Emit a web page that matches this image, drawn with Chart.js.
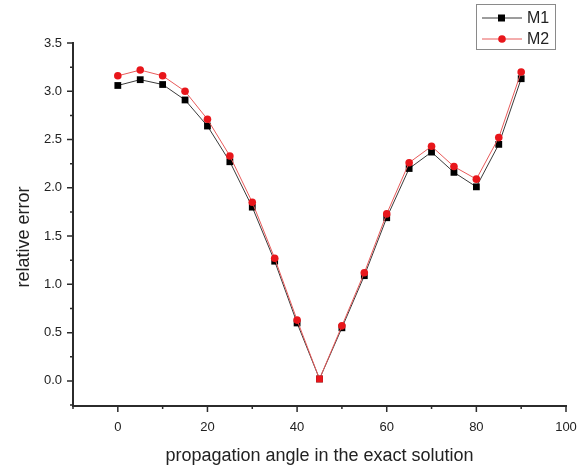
<!DOCTYPE html>
<html>
<head>
<meta charset="utf-8">
<script src="https://cdn.jsdelivr.net/npm/chart.js@4/dist/chart.umd.min.js"></script>
<style>
  html, body { margin: 0; padding: 0; background: #fff; }
  #wrap { width: 585px; height: 465px; }
</style>
</head>
<body>
<div id="wrap"><canvas id="c" width="585" height="465"></canvas></div>
<script>
// Propagation angles (degrees) and relative error of both methods
const angles = [0, 5, 10, 15, 20, 25, 30, 35, 40, 45, 50, 55, 60, 65, 70, 75, 80, 85, 90];
const m1Values = [3.06, 3.12, 3.07, 2.91, 2.64, 2.27, 1.80, 1.24, 0.60, 0.02, 0.55, 1.09, 1.69, 2.20, 2.37, 2.16, 2.01, 2.45, 3.13];
const m2Values = [3.16, 3.22, 3.16, 3.00, 2.71, 2.33, 1.85, 1.27, 0.63, 0.02, 0.57, 1.12, 1.73, 2.26, 2.43, 2.22, 2.09, 2.52, 3.20];
const xTickLabels = [0, 20, 40, 60, 80, 100];
const yTickLabels = ['0.0', '0.5', '1.0', '1.5', '2.0', '2.5', '3.0', '3.5'];
const seriesNames = ['M1', 'M2'];
const xTitle = 'propagation angle in the exact solution';
const yTitle = 'relative error';

const AXIS_COLOR = '#2b2b2b';
const TEXT_COLOR = '#222222';
const FONT = '"Liberation Sans", Arial, sans-serif';

// Outward major/minor ticks, drawn along each axis
const axisTicks = {
  id: 'axisTicks',
  afterDraw(chart) {
    const ctx = chart.ctx;
    const x = chart.scales.x, y = chart.scales.y;
    const area = chart.chartArea;
    ctx.save();
    ctx.strokeStyle = AXIS_COLOR;
    ctx.lineWidth = 1.5;
    ctx.beginPath();
    for (let v = -10; v <= 100; v += 10) {
      const px = x.getPixelForValue(v);
      const len = (v % 20 === 0) ? 6 : 3;
      ctx.moveTo(px, area.bottom);
      ctx.lineTo(px, area.bottom + len);
    }
    for (let k = -1; k <= 14; k++) {
      const v = k * 0.25;
      const py = y.getPixelForValue(v);
      if (py > area.bottom + 0.5) continue;
      const len = (k % 2 === 0) ? 6 : 3;
      ctx.moveTo(area.left, py);
      ctx.lineTo(area.left - len, py);
    }
    ctx.stroke();
    ctx.restore();
  }
};

// Axis titles
const axisTitles = {
  id: 'axisTitles',
  afterDraw(chart) {
    const ctx = chart.ctx;
    const area = chart.chartArea;
    ctx.save();
    ctx.fillStyle = TEXT_COLOR;
    ctx.font = '18px ' + FONT;
    ctx.textAlign = 'center';
    ctx.textBaseline = 'alphabetic';
    ctx.fillText(xTitle, (area.left + area.right) / 2, 461);
    ctx.translate(29, 237);
    ctx.rotate(-Math.PI / 2);
    ctx.fillText(yTitle, 0, 0);
    ctx.restore();
  }
};

// Boxed legend in the upper right corner
const boxLegend = {
  id: 'boxLegend',
  afterDraw(chart) {
    const ctx = chart.ctx;
    const bx = 476.5, by = 4.5, bw = 79, bh = 45;
    ctx.save();
    ctx.fillStyle = '#fff';
    ctx.fillRect(bx, by, bw, bh);
    ctx.strokeStyle = '#8a8a8a';
    ctx.lineWidth = 1;
    ctx.strokeRect(bx, by, bw, bh);
    const rows = [18, 39];
    chart.data.datasets.forEach((ds, i) => {
      const ry = rows[i];
      ctx.strokeStyle = ds.borderColor;
      ctx.lineWidth = 1;
      ctx.beginPath();
      ctx.moveTo(482, ry);
      ctx.lineTo(522, ry);
      ctx.stroke();
      ctx.fillStyle = ds.backgroundColor;
      ctx.beginPath();
      if (i === 0) {
        ctx.rect(498, ry - 3.5, 7, 7);
      } else {
        ctx.arc(502, ry, 3.8, 0, Math.PI * 2);
      }
      ctx.fill();
      ctx.fillStyle = TEXT_COLOR;
      ctx.font = '16px ' + FONT;
      ctx.textAlign = 'left';
      ctx.textBaseline = 'middle';
      ctx.fillText(ds.label, 527, ry + 1);
    });
    ctx.restore();
  }
};

const ctx = document.getElementById('c').getContext('2d');
new Chart(ctx, {
  type: 'line',
  data: {
    datasets: [
      {
        label: seriesNames[0],
        data: angles.map((a, i) => ({ x: a, y: m1Values[i] })),
        borderColor: '#3a3a3a',
        backgroundColor: '#000000',
        borderWidth: 1,
        pointStyle: 'rect',
        pointRadius: 4.8,
        pointBorderWidth: 0,
        order: 1
      },
      {
        label: seriesNames[1],
        data: angles.map((a, i) => ({ x: a, y: m2Values[i] })),
        borderColor: '#e85a5a',
        backgroundColor: '#e8161b',
        borderWidth: 1,
        pointStyle: (c) => (c.dataIndex === 9 ? 'rect' : 'circle'),
        pointRadius: (c) => (c.dataIndex === 9 ? 4.8 : 3.8),
        pointBorderWidth: 0,
        order: 0
      }
    ]
  },
  options: {
    responsive: false,
    animation: false,
    layout: { padding: { top: 43, right: 19, left: 0, bottom: 0 } },
    plugins: {
      legend: { display: false },
      tooltip: { enabled: false }
    },
    scales: {
      x: {
        type: 'linear',
        min: -10,
        max: 100,
        afterBuildTicks: (s) => { s.ticks = xTickLabels.map(v => ({ value: v })); },
        afterFit: (s) => { s.height = 59; s.paddingLeft = 0; s.paddingRight = 0; },
        grid: { display: false, drawTicks: false },
        border: { display: true, color: AXIS_COLOR, width: 2 },
        ticks: {
          padding: 14,
          color: TEXT_COLOR,
          font: { family: FONT, size: 13 },
          maxRotation: 0,
          callback: (v) => String(v)
        }
      },
      y: {
        type: 'linear',
        min: -0.26,
        max: 3.5,
        afterBuildTicks: (s) => { s.ticks = yTickLabels.map(t => ({ value: parseFloat(t) })); },
        afterFit: (s) => { s.width = 73; s.paddingTop = 0; s.paddingBottom = 0; },
        grid: { display: false, drawTicks: false },
        border: { display: true, color: AXIS_COLOR, width: 2 },
        ticks: {
          padding: 11,
          color: TEXT_COLOR,
          font: { family: FONT, size: 13 },
          callback: (v) => Number(v).toFixed(1)
        }
      }
    }
  },
  plugins: [axisTicks, axisTitles, boxLegend]
});
</script>
</body>
</html>
